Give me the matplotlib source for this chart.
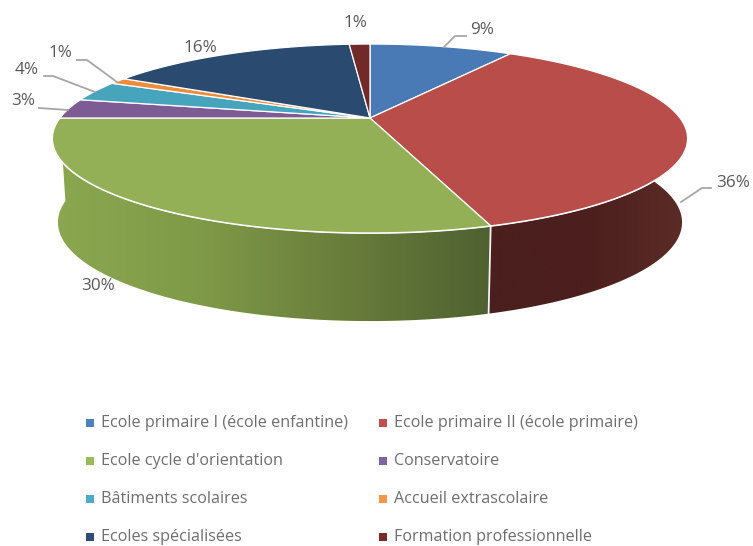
import matplotlib
matplotlib.use('Agg')
import matplotlib.pyplot as plt
import numpy as np
from matplotlib.colors import LinearSegmentedColormap
from matplotlib.patches import Polygon

categories = ['Ecole primaire I (école enfantine)', 'Ecole primaire II (école primaire)',
              "Ecole cycle d'orientation", 'Conservatoire',
              'Bâtiments scolaires', 'Accueil extrascolaire',
              'Ecoles spécialisées', 'Formation professionnelle']
values = [9.0, 36.0, 30.0, 3.4, 3.5, 1.1, 15.7, 1.3]
pct_labels = ['9%', '36%', '30%', '3%', '4%', '1%', '16%', '1%']
colors = ['#4a7ab5', '#b84d49', '#93b056', '#7d5c96',
          '#46a4bd', '#ef8c3c', '#2a4a70', '#722a28']
legend_colors = ['#4f81bd', '#c0504d', '#9bbb59', '#8064a2',
                 '#4bacc6', '#f79646', '#2c4d75', '#772c2a']

# label centres and leader lines, in pixels of the picture
label_pos = [(482, 30), (733, 183), (98, 286), (23, 101),
             (27, 70), (60, 53), (200, 48), (355, 23)]
leaders = [[(444, 47), (455, 36), (466, 36)],
           [(681, 202), (702, 188), (711, 188)],
           None,
           [(39, 108), (68, 110)],
           [(44, 76), (53, 76), (95, 92)],
           [(77, 60), (87, 60), (117, 82)],
           None, None]

# perspective of the pie
cx = 370
k = 0.217
top_a, top_b, top_y = 310, 90, 118
low_a, low_b, low_y = 304.6, 94, 201


def rim(theta, a, b, y0):
    u, v = np.sin(theta), np.cos(theta)
    w = 1 + k*v
    return cx + a*u/w, y0 - b*v/w


def wall(t0, t1, cmap):
    theta = np.linspace(t0, t1, 200)
    x1, y1 = rim(theta, top_a, top_b, top_y)
    x2, y2 = rim(theta, low_a, low_b, low_y)
    pts = np.r_[np.c_[x1, y1], np.c_[x2, y2][::-1]]
    poly = Polygon(pts, closed=True, fc='none', ec='none', transform=ax.transData)
    xmin, xmax = pts[:, 0].min(), pts[:, 0].max()
    img = ax.imshow(np.linspace(0, 1, 256)[None, :], cmap=cmap, aspect='auto',
                    extent=(xmin, xmax, pts[:, 1].max(), pts[:, 1].min()), zorder=2)
    img.set_clip_path(poly)
    ax.plot(x1, y1, color='white', lw=1.4, zorder=3)


fig = plt.figure(figsize=(7.53, 5.46), dpi=100)
ax = fig.add_axes([0, 0, 1, 1])

edges = np.r_[0, np.cumsum(values)] / np.sum(values) * 2*np.pi

green_wall = LinearSegmentedColormap.from_list('g', ['#8ba850', '#7f9a48', '#697d3b', '#4f6130'])
red_wall = LinearSegmentedColormap.from_list('r', ['#4a1f1d', '#4c1f1d', '#5c2c27'])
wall(edges[2], edges[3], green_wall)
wall(edges[1], edges[2], red_wall)

# seam between red and green walls
sx1, sy1 = rim(edges[2], top_a, top_b, top_y)
sx2, sy2 = rim(edges[2], low_a, low_b, low_y)
ax.plot([sx1, sx2], [sy1, sy2], color='#f2f2f2', lw=1.3, zorder=3)

# top face
for i in range(len(values)):
    theta = np.linspace(edges[i], edges[i+1], 120)
    x, y = rim(theta, top_a, top_b, top_y)
    pts = np.r_[[[cx, top_y]], np.c_[x, y]]
    ax.add_patch(Polygon(pts, closed=True, fc=colors[i], ec='white', lw=0.9,
                         joinstyle='round', zorder=4))

# data labels
for i in range(len(values)):
    ax.text(label_pos[i][0], label_pos[i][1], pct_labels[i], ha='center', va='center',
            fontsize=12.3, color='#595959', family='Open Sans', zorder=6)
    if leaders[i] is not None:
        ax.plot([p[0] for p in leaders[i]], [p[1] for p in leaders[i]],
                color='#a6a6a6', lw=1.3, zorder=5)

# legend, two columns
legend_x = [87, 380]
legend_y = [423, 461, 499, 537]
for i in range(len(categories)):
    col = i % 2
    row = i // 2
    ax.scatter(legend_x[col] + 3, legend_y[row], marker='s', s=26, color=legend_colors[i],
               linewidths=0, zorder=6)
    ax.text(legend_x[col] + 14, legend_y[row], categories[i], ha='left', va='center',
            fontsize=11.6, color='#6e6e6e', family='Open Sans', zorder=6)

ax.set_xlim(0, 753)
ax.set_ylim(546, 0)
ax.axis('off')
fig.savefig('out.png', dpi=100)
